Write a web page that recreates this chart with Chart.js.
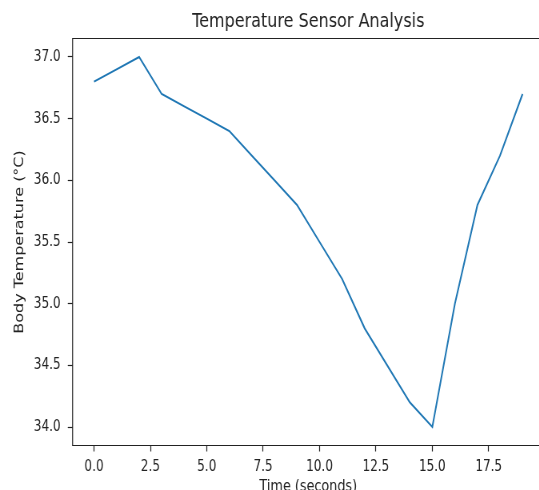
<!DOCTYPE html>
<html>
<head>
<meta charset="utf-8">
<script src="https://cdn.jsdelivr.net/npm/chart.js@4.4.0/dist/chart.umd.min.js"></script>
<style>
  html, body { margin: 0; padding: 0; background: #fff; overflow: hidden; }
  #clip { width: 539px; height: 490px; overflow: hidden; position: relative; }
  /* the reference figure is squeezed sideways, so the canvas is too */
  #wrap { position: absolute; left: 0; top: 0; transform: scaleX(0.8); transform-origin: 0 0; }
  #wrap canvas { display: block; }
</style>
</head>
<body>
<div id="clip"><div id="wrap"><canvas id="chart" width="720" height="500"></canvas></div></div>
<script>
  // Data
  const times = [0, 1, 2, 3, 4, 5, 6, 7, 8, 9, 10, 11, 12, 13, 14, 15, 16, 17, 18, 19];
  const temps = [36.8, 36.9, 37.0, 36.7, 36.6, 36.5, 36.4, 36.2, 36.0, 35.8, 35.5, 35.2, 34.8, 34.5, 34.2, 34.0, 35.0, 35.8, 36.2, 36.7];
  const xTicks = [0, 2.5, 5, 7.5, 10, 12.5, 15, 17.5];
  const yTicks = [34.0, 34.5, 35.0, 35.5, 36.0, 36.5, 37.0];

  const textColor = '#222';
  const fontFamily = '"DejaVu Sans", sans-serif';

  // Spines: top, left and bottom (the right one falls outside the picture)
  const frame = {
    id: 'frame',
    afterDraw(chart) {
      const a = chart.chartArea;
      const ctx = chart.ctx;
      ctx.save();
      ctx.strokeStyle = textColor;
      ctx.lineWidth = 1.2;
      ctx.beginPath();
      ctx.moveTo(chart.width, a.top);
      ctx.lineTo(a.left, a.top);
      ctx.lineTo(a.left, a.bottom);
      ctx.lineTo(chart.width, a.bottom);
      ctx.stroke();
      ctx.restore();
    }
  };

  new Chart(document.getElementById('chart').getContext('2d'), {
    type: 'line',
    data: {
      datasets: [{
        data: times.map((t, i) => ({ x: t, y: temps[i] })),
        borderColor: '#1f77b4',
        borderWidth: 2,
        pointRadius: 0,
        tension: 0,
        fill: false
      }]
    },
    options: {
      responsive: false,
      animation: false,
      layout: { padding: { left: 0, right: 40, top: 0, bottom: 0 } },
      plugins: {
        legend: { display: false },
        tooltip: { enabled: false },
        title: {
          display: true,
          text: 'Temperature Sensor Analysis',
          fullSize: false,
          color: textColor,
          font: { family: fontFamily, size: 20, weight: 'normal' },
          padding: { top: 10, bottom: 4.5 }
        }
      },
      scales: {
        x: {
          type: 'linear',
          min: -0.95,
          max: 19.95,
          afterFit: s => { s.height = 54.5; },
          afterBuildTicks: s => { s.ticks = xTicks.map(v => ({ value: v })); },
          border: { display: false },
          grid: { drawOnChartArea: false, drawTicks: true, tickLength: 6, color: textColor, tickWidth: 1.2 },
          ticks: {
            color: textColor,
            padding: 7,
            maxRotation: 0,
            autoSkip: false,
            font: { family: fontFamily, size: 15 },
            callback: v => v.toFixed(1)
          },
          title: {
            display: true,
            text: 'Time (seconds)',
            color: textColor,
            font: { family: fontFamily, size: 16 },
            padding: { top: 0, bottom: 3.4 }
          }
        },
        y: {
          min: 33.85,
          max: 37.15,
          afterFit: s => { s.width = 90.75; },
          afterBuildTicks: s => { s.ticks = yTicks.map(v => ({ value: v })); },
          border: { display: false },
          grid: { drawOnChartArea: false, drawTicks: true, tickLength: 6, color: textColor, tickWidth: 1.2 },
          ticks: {
            color: textColor,
            padding: 9,
            autoSkip: false,
            font: { family: fontFamily, size: 15 },
            callback: v => v.toFixed(1)
          },
          title: {
            display: true,
            text: 'Body Temperature (°C)',
            color: textColor,
            font: { family: fontFamily, size: 16 },
            padding: { top: 15.4, bottom: 0 }
          }
        }
      }
    },
    plugins: [frame]
  });
</script>
</body>
</html>
